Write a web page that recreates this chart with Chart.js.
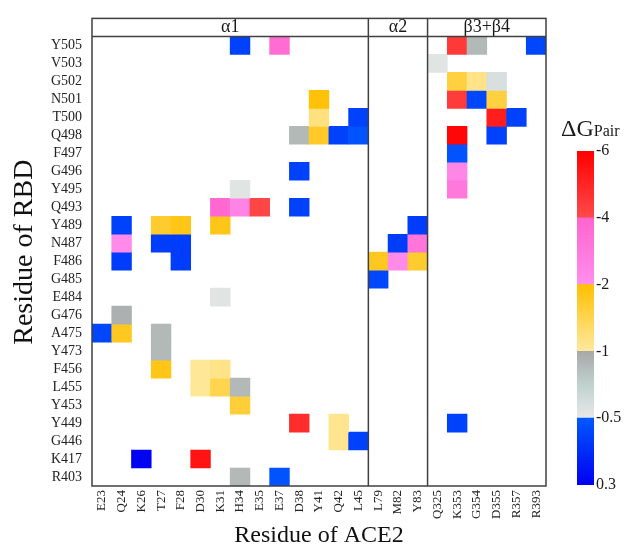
<!DOCTYPE html>
<html lang="en">
<head>
<meta charset="UTF-8">
<title>Residue pair energies, RBD vs ACE2</title>
<script src="https://cdn.jsdelivr.net/npm/chart.js"></script>
<style>
    body {
        margin: 0;
        background: #fff;
    }
    #wrap {
        position: relative;
        width: 629px;
        height: 548px;
    }
    #mapChart {
        position: absolute;
        left: 0;
        top: 0;
    }
    #barChart {
        position: absolute;
        left: 565px;
        top: 120px;
    }
    #barTitle {
        position: absolute;
        left: 561px;
        top: 116px;
        font-family: 'Liberation Serif', 'Times New Roman', serif;
        font-size: 24px;
        line-height: 1;
        color: #1a1a1a;
        white-space: nowrap;
    }
    #barTitle span {
        font-size: 16px;
    }
</style>
</head>
<body>
<div id="wrap">
    <canvas id="mapChart" width="629" height="548"></canvas>
    <canvas id="barChart" width="64" height="380"></canvas>
    <div id="barTitle">ΔG<span>Pair</span></div>
</div>

<script>
const ace2Residues = ['E23', 'Q24', 'K26', 'T27', 'F28', 'D30', 'K31', 'H34', 'E35', 'E37', 'D38', 'Y41', 'Q42', 'L45',
    'L79', 'M82', 'Y83', 'Q325', 'K353', 'G354', 'D355', 'R357', 'R393'];
const rbdResidues = ['Y505', 'V503', 'G502', 'N501', 'T500', 'Q498', 'F497', 'G496', 'Y495', 'Q493', 'Y489', 'N487', 'F486',
    'G485', 'E484', 'G476', 'A475', 'Y473', 'F456', 'L455', 'Y453', 'Y449', 'G446', 'K417', 'R403'];
const regions = ['α1', 'α2', 'β3+β4'];
const regionEnds = ['L45', 'Y83', 'R393'];   // last ACE2 residue in each region

// [ACE2 residue, RBD residue, ΔG pair]
const pairs = [
    ['H34', 'Y505', -0.3], ['E37', 'Y505', -3.6], ['K353', 'Y505', -4.5], ['G354', 'Y505', -0.9], ['R393', 'Y505', -0.35],
    ['Q325', 'V503', -0.55],
    ['K353', 'G502', -1.6], ['G354', 'G502', -1.15], ['D355', 'G502', -0.6],
    ['Y41', 'N501', -1.95], ['K353', 'N501', -4.4], ['G354', 'N501', -0.35], ['D355', 'N501', -1.6],
    ['Y41', 'T500', -1.2], ['L45', 'T500', -0.3], ['D355', 'T500', -5.2], ['R357', 'T500', -0.3],
    ['D38', 'Q498', -0.9], ['Y41', 'Q498', -1.75], ['Q42', 'Q498', -0.3], ['L45', 'Q498', -0.45], ['K353', 'Q498', -5.8], ['D355', 'Q498', -0.3],
    ['K353', 'F497', -0.45],
    ['D38', 'G496', -0.3], ['K353', 'G496', -2.4],
    ['H34', 'Y495', -0.55], ['K353', 'Y495', -3.0],
    ['K31', 'Q493', -3.8], ['H34', 'Q493', -2.5], ['E35', 'Q493', -4.1], ['D38', 'Q493', -0.3],
    ['Q24', 'Y489', -0.3], ['T27', 'Y489', -1.7], ['F28', 'Y489', -1.85], ['K31', 'Y489', -1.85], ['Y83', 'Y489', -0.25],
    ['Q24', 'N487', -2.2], ['T27', 'N487', -0.25], ['F28', 'N487', -0.25], ['M82', 'N487', -0.25], ['Y83', 'N487', -3.2],
    ['Q24', 'F486', -0.25], ['F28', 'F486', -0.25], ['L79', 'F486', -1.8], ['M82', 'F486', -2.2], ['Y83', 'F486', -1.7],
    ['L79', 'G485', -0.35],
    ['K31', 'E484', -0.55],
    ['Q24', 'G476', -0.95],
    ['E23', 'A475', -0.35], ['Q24', 'A475', -1.8], ['T27', 'A475', -0.9],
    ['T27', 'Y473', -0.9],
    ['T27', 'F456', -1.85], ['D30', 'F456', -1.05], ['K31', 'F456', -1.15],
    ['D30', 'L455', -1.05], ['K31', 'L455', -1.5], ['H34', 'L455', -0.9],
    ['H34', 'Y453', -1.65],
    ['D38', 'Y449', -4.8], ['Q42', 'Y449', -1.1], ['K353', 'Y449', -0.3],
    ['Q42', 'G446', -1.1], ['L45', 'G446', -0.3],
    ['K26', 'K417', 0.25], ['D30', 'K417', -5.5],
    ['H34', 'R403', -0.9], ['E37', 'R403', -0.45]
];

// colour bar: equal-height segments between these values, bottom to top
const barTicks = [0.3, -0.5, -1, -2, -4, -6];
const barColors = [
    ['#0000f0', '#0058ff'],
    ['#e8e8e8', '#c0d2ce', '#a8a8a8'],
    ['#ffe9a0', '#ffc000'],
    ['#ff8eec', '#ff64ce'],
    ['#ff4a4a', '#ff0000']
];

const serif = "'Liberation Serif', 'Times New Roman', serif";

function hexToRgb(h) {
    return [1, 3, 5].map(i => parseInt(h.slice(i, i + 2), 16));
}

function mix(a, b, t) {
    const ca = hexToRgb(a), cb = hexToRgb(b);
    const c = ca.map((v, i) => Math.round(v + (cb[i] - v) * t));
    return `rgb(${c[0]}, ${c[1]}, ${c[2]})`;
}

function colorFor(v) {
    let s = 0;
    while (s < barTicks.length - 2 && v < barTicks[s + 1]) s++;
    let t = (barTicks[s] - v) / (barTicks[s] - barTicks[s + 1]);
    t = Math.min(1, Math.max(0, t));
    const stops = barColors[s];
    const p = t * (stops.length - 1);
    const k = Math.min(Math.floor(p), stops.length - 2);
    return mix(stops[k], stops[k + 1], p - k);
}

// one dataset per RBD row, bars float over one row height
const datasets = rbdResidues.map((rbd, row) => {
    const cells = pairs.filter(p => p[1] === rbd);
    return {
        label: rbd,
        data: cells.map(p => ({ x: p[0], y: [row - 0.5, row + 0.5] })),
        backgroundColor: cells.map(p => colorFor(p[2]))
    };
});

const framePlugin = {
    id: 'frame',
    afterDatasetsDraw(chart) {
        const { ctx, chartArea: a, scales: { x, y } } = chart;
        ctx.save();
        ctx.strokeStyle = '#404040';
        ctx.lineWidth = 1.5;
        ctx.fillStyle = '#1a1a1a';
        ctx.font = '18px ' + serif;
        ctx.textAlign = 'center';
        ctx.textBaseline = 'middle';
        ctx.strokeRect(a.left, a.top, a.width, a.height);
        ctx.beginPath();
        const headBottom = y.getPixelForValue(-0.5);
        ctx.moveTo(a.left, headBottom);
        ctx.lineTo(a.right, headBottom);
        let start = 0;
        regionEnds.forEach((end, i) => {
            const last = ace2Residues.indexOf(end);
            const x0 = start === 0 ? a.left : (x.getPixelForValue(start - 1) + x.getPixelForValue(start)) / 2;
            const x1 = last === ace2Residues.length - 1 ? a.right : (x.getPixelForValue(last) + x.getPixelForValue(last + 1)) / 2;
            if (i > 0) {
                ctx.moveTo(x0, a.top);
                ctx.lineTo(x0, a.bottom);
            }
            ctx.fillText(regions[i], (x0 + x1) / 2, y.getPixelForValue(-1));
            start = last + 1;
        });
        ctx.stroke();
        ctx.restore();
    }
};

new Chart(document.getElementById('mapChart'), {
    type: 'bar',
    data: { labels: ace2Residues, datasets: datasets },
    options: {
        responsive: false,
        animation: false,
        layout: { padding: { top: 13, right: 83, left: 0, bottom: 0 } },
        datasets: { bar: { grouped: false, barPercentage: 1, categoryPercentage: 1, borderWidth: 0 } },
        plugins: { legend: { display: false }, tooltip: { enabled: false } },
        scales: {
            x: {
                type: 'category',
                grid: { display: false, drawTicks: false },
                border: { display: false },
                ticks: {
                    autoSkip: false, maxRotation: 90, minRotation: 90, padding: 4,
                    color: '#222', font: { family: serif, size: 13 }
                },
                title: {
                    display: true, text: 'Residue of ACE2', color: '#111', padding: 0,
                    font: { family: serif, size: 24, lineHeight: 1 }
                },
                afterFit: s => { s.height = 62; }
            },
            y: {
                type: 'linear',
                reverse: true,
                min: -1.5,
                max: 24.5,
                grid: { display: false, drawTicks: false },
                border: { display: false },
                afterBuildTicks: s => { s.ticks = rbdResidues.map((_, i) => ({ value: i })); },
                ticks: {
                    autoSkip: false, padding: 10, color: '#222',
                    font: { family: serif, size: 14 },
                    callback: v => rbdResidues[v] ?? ''
                },
                title: {
                    display: true, text: 'Residue of RBD', color: '#111',
                    padding: { top: 8, bottom: 0 },
                    font: { family: serif, size: 28 }
                },
                afterFit: s => { s.width = 92; }
            }
        }
    },
    plugins: [framePlugin]
});

function segmentGradient(chart, i, stops) {
    const { ctx, chartArea, scales } = chart;
    if (!chartArea) return stops[0];
    const y = scales.y;
    const g = ctx.createLinearGradient(0, y.getPixelForValue(i), 0, y.getPixelForValue(i + 1));
    stops.forEach((c, k) => g.addColorStop(k / (stops.length - 1), c));
    return g;
}

new Chart(document.getElementById('barChart'), {
    type: 'bar',
    data: {
        labels: [''],
        datasets: barColors.map((stops, i) => ({
            data: [[i, i + 1]],
            backgroundColor: c => segmentGradient(c.chart, i, stops)
        }))
    },
    options: {
        responsive: false,
        animation: false,
        layout: { padding: { left: 12, top: 31, bottom: 15, right: 0 } },
        datasets: { bar: { grouped: false, barPercentage: 1, categoryPercentage: 1, borderWidth: 0 } },
        plugins: { legend: { display: false }, tooltip: { enabled: false } },
        scales: {
            x: { display: false },
            y: {
                position: 'right',
                min: 0,
                max: 5,
                grid: { display: false, drawTicks: false },
                border: { display: false },
                afterBuildTicks: s => { s.ticks = barTicks.map((_, i) => ({ value: i })); },
                ticks: {
                    autoSkip: false, padding: 2, color: '#1a1a1a',
                    font: { family: serif, size: 16 },
                    callback: v => String(barTicks[v])
                },
                afterFit: s => { s.width = 35; }
            }
        }
    }
});
</script>
</body>
</html>
